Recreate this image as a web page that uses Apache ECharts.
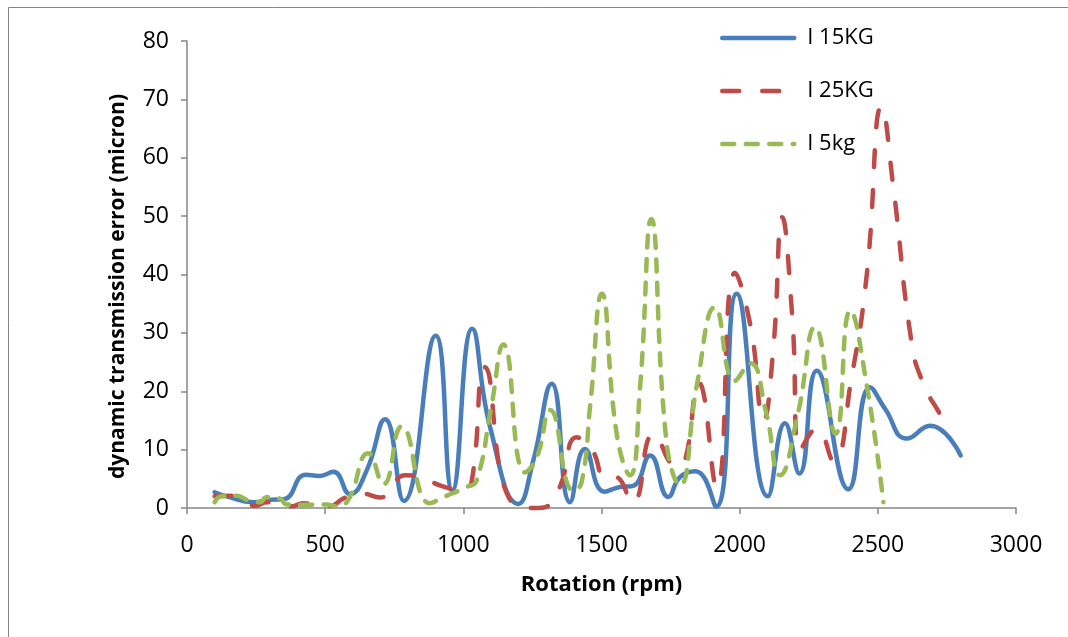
<!DOCTYPE html>
<html>
<head>
<meta charset="utf-8">
<script src="https://cdn.jsdelivr.net/npm/echarts@6/dist/echarts.min.js"></script>
<style>
html,body{margin:0;padding:0;background:#fff;}
#chart{width:1068px;height:637px;}
</style>
</head>
<body>
<div id="chart"></div>
<script>
// ---- data ----
var xTicks = [0, 500, 1000, 1500, 2000, 2500, 3000];
var yTicks = [0, 10, 20, 30, 40, 50, 60, 70, 80];
var seriesNames = ['I 15KG', 'I 25KG', 'I 5kg'];

var blueRpm = [100,150,240,300,350,430,480,530,590,650,717,785,900,960,1032,1097,1199,1253,1320,1386,1440,1510,1567,1615,1676,1742,1784,1840,1915,1989,2102,2164,2216,2279,2393,2472,2526,2605,2689,2800];
var blueVal = [2.7,1.9,1.0,1.4,1.5,5.7,5.5,6.2,2.4,6.4,15.2,1.2,29.5,3.0,30.7,13.8,0.7,8.1,21.3,1.0,10.1,2.8,3.6,3.8,9.0,1.9,5.3,6.3,0.2,36.7,2.0,14.5,5.9,23.5,3.2,20.7,17.0,11.9,14.1,9.0];

var redRpm = [100,160,246,290,379,420,517,565,630,700,790,850,920,1000,1030,1078,1175,1270,1300,1350,1410,1465,1515,1550,1612,1690,1772,1800,1852,1917,1983,2040,2086,2122,2154,2190,2219,2279,2339,2405,2460,2514,2556,2623,2665,2725,2760];
var redVal = [2.0,2.1,0.4,1.0,0.3,0.8,0.3,1.6,2.5,1.8,5.6,5.2,3.8,3.0,4.5,24.1,1.0,0.0,0.2,3.7,12.1,10.0,5.2,5.3,0.9,12.7,7.2,7.8,21.5,3.5,40.3,31.0,15.0,27.5,49.8,33.0,9.9,13.6,8.1,22.4,40.0,68.8,55.0,28.1,21.3,16.1,13.5];

var greenRpm = [100,125,180,222,264,288,337,361,433,506,536,578,656,711,777,879,928,1012,1048,1100,1145,1223,1266,1314,1398,1428,1460,1501,1555,1603,1640,1680,1736,1784,1845,1911,1983,2038,2095,2146,2210,2273,2347,2400,2460,2520];
var greenVal = [1.0,2.0,2.1,1.3,1.0,1.85,1.6,0.6,0.55,0.6,0.3,1.0,9.4,4.1,14.0,0.8,1.85,3.6,4.7,17.0,28.0,6.1,8.7,16.8,3.0,4.4,18.0,36.7,12.7,5.6,21.0,49.5,11.0,3.9,21.0,34.4,21.8,24.8,16.5,5.6,16.0,31.0,12.7,33.8,21.0,1.0];

function zip(xs, ys) { return xs.map(function (x, i) { return [x, ys[i]]; }); }

var FONT = "'Open Sans', 'Noto Sans', sans-serif";
var AXIS_COLOR = '#868686';

var chart = echarts.init(document.getElementById('chart'), null, { renderer: 'canvas' });
var option = {
  animation: false,
  backgroundColor: '#ffffff',
  graphic: [{
    type: 'rect',
    shape: { x: 8.5, y: 7.5, width: 1100, height: 700 },
    style: { fill: 'none', stroke: AXIS_COLOR, lineWidth: 1 },
    silent: true,
    z: -1
  }],
  grid: { left: 187, right: 52, top: 41, bottom: 129, containLabel: false },
  legend: {
    orient: 'vertical',
    left: 720,
    top: 26,
    padding: 0,
    itemWidth: 72,
    itemHeight: 24,
    itemGap: 29,
    data: seriesNames,
    textStyle: { fontFamily: FONT, fontSize: 22, color: '#000', padding: [0, 0, 0, 8], lineHeight: 24 },
    itemStyle: { color: 'rgba(0,0,0,0)', borderWidth: 0, opacity: 0 },
    lineStyle: { width: 4.5 }
  },
  xAxis: {
    type: 'value',
    min: xTicks[0],
    max: xTicks[xTicks.length - 1],
    interval: xTicks[1] - xTicks[0],
    name: 'Rotation (rpm)',
    nameLocation: 'middle',
    nameGap: 66,
    nameTextStyle: { fontFamily: FONT, fontSize: 22, fontWeight: 'bold', color: '#000' },
    axisLine: { show: true, lineStyle: { color: AXIS_COLOR, width: 1.5 } },
    axisTick: { show: true, inside: false, length: 6, lineStyle: { color: AXIS_COLOR, width: 1.5 } },
    axisLabel: { fontFamily: FONT, fontSize: 23, color: '#000', margin: 26, formatter: function (v) { return String(v); } },
    splitLine: { show: false }
  },
  yAxis: {
    type: 'value',
    min: yTicks[0],
    max: yTicks[yTicks.length - 1],
    interval: yTicks[1] - yTicks[0],
    name: 'dynamic transmission error (micron)',
    nameLocation: 'middle',
    nameGap: 58,
    nameRotate: 90,
    nameTextStyle: { fontFamily: FONT, fontSize: 21, fontWeight: 'bold', color: '#000', padding: [0, 24, 0, 0] },
    axisLine: { show: true, lineStyle: { color: AXIS_COLOR, width: 1.5 } },
    axisTick: { show: true, inside: false, length: 6, lineStyle: { color: AXIS_COLOR, width: 1.5 } },
    axisLabel: { fontFamily: FONT, fontSize: 23, color: '#000', margin: 18, formatter: function (v) { return String(v); } },
    splitLine: { show: false }
  },
  series: [
    {
      name: seriesNames[0], type: 'line', smooth: 0.5, symbol: 'none', clip: false,
      data: zip(blueRpm, blueVal), z: 3,
      itemStyle: { color: '#4A7EBB' },
      lineStyle: { color: '#4A7EBB', width: 4.5, type: 'solid', cap: 'round', join: 'round' }
    },
    {
      name: seriesNames[1], type: 'line', smooth: 0.5, symbol: 'none', clip: false,
      data: zip(redRpm, redVal), z: 4,
      itemStyle: { color: '#BE4B48' },
      lineStyle: { color: '#BE4B48', width: 4.5, type: [17, 23], cap: 'round', join: 'round' }
    },
    {
      name: seriesNames[2], type: 'line', smooth: 0.5, symbol: 'none', clip: false,
      data: zip(greenRpm, greenVal), z: 5,
      itemStyle: { color: '#98B954' },
      lineStyle: { color: '#98B954', width: 4.5, type: [12, 11.5], cap: 'round', join: 'round' }
    }
  ]
};
chart.setOption(option);
</script>
</body>
</html>
